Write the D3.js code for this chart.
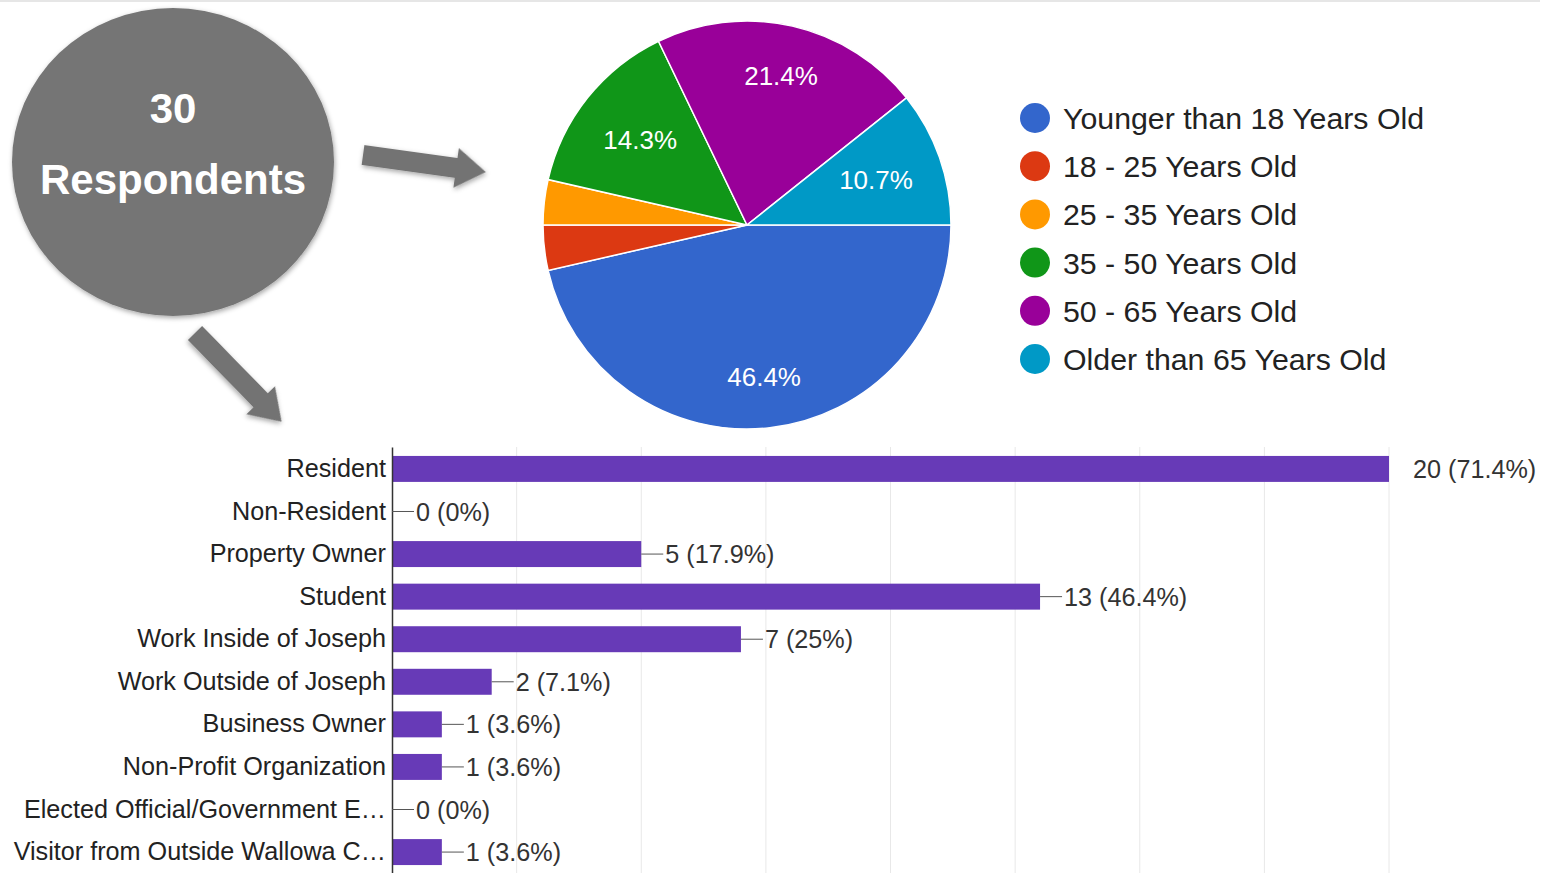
<!DOCTYPE html>
<html>
<head>
    <meta charset='utf-8'>
    <title>Respondents</title>
    <script src='https://cdn.jsdelivr.net/npm/d3@7'></script>
    <style>
        body { margin: 0; background: #fff; }
        text { font-family: 'Liberation Sans', Arial, sans-serif; }
    </style>
</head>
<body>
    <svg width='1554' height='873'></svg>
    <script>
        // ages (pie)
        const ageGroups = ['Younger than 18 Years Old', '18 - 25 Years Old', '25 - 35 Years Old',
            '35 - 50 Years Old', '50 - 65 Years Old', 'Older than 65 Years Old']
        const ageCounts = [13, 1, 1, 4, 6, 3]
        const ageColors = ['#3366cc', '#dc3912', '#ff9900', '#109618', '#990099', '#0099c6']

        // respondent type (bars)
        const roles = ['Resident', 'Non-Resident', 'Property Owner', 'Student', 'Work Inside of Joseph',
            'Work Outside of Joseph', 'Business Owner', 'Non-Profit Organization',
            'Elected Official/Government E…', 'Visitor from Outside Wallowa C…']
        const roleCounts = [20, 0, 5, 13, 7, 2, 1, 1, 0, 1]
        const rolePercents = ['71.4%', '0%', '17.9%', '46.4%', '25%', '7.1%', '3.6%', '3.6%', '0%', '3.6%']
        const xTicks = [0, 2.5, 5, 7.5, 10, 12.5, 15, 17.5, 20]

        const totalRespondents = 30

        const svg = d3.select('svg')

        // shadow filter
        const defs = svg.append('defs')
        const f = defs.append('filter').attr('id', 'shadow').attr('x', '-20%').attr('y', '-20%')
            .attr('width', '140%').attr('height', '140%')
        f.append('feDropShadow').attr('dx', 1).attr('dy', 2).attr('stdDeviation', 2.5)
            .attr('flood-color', '#000').attr('flood-opacity', 0.35)

        // faint line at top
        svg.append('rect').attr('x', 0).attr('y', 0).attr('width', 1540).attr('height', 2).attr('fill', '#e6e6e6')

        // ---- gray bubble + arrows ----
        svg.append('ellipse').attr('cx', 173).attr('cy', 162).attr('rx', 161).attr('ry', 154)
            .attr('fill', '#757575').attr('filter', 'url(#shadow)')
        svg.append('text').attr('x', 173).attr('y', 123).attr('text-anchor', 'middle')
            .attr('fill', '#fff').attr('font-size', 42).attr('font-weight', 'bold').text(totalRespondents)
        svg.append('text').attr('x', 173).attr('y', 194).attr('text-anchor', 'middle')
            .attr('fill', '#fff').attr('font-size', 42).attr('font-weight', 'bold').text('Respondents')

        // block arrow pointing along +x, length 124
        const arrowPts = [[0, -10], [94, -10], [94, -20], [124, 0], [94, 20], [94, 10], [0, 10]]
        const arrowPath = d3.line()(arrowPts) + 'Z'
        svg.append('path').attr('d', arrowPath).attr('fill', '#737373').attr('filter', 'url(#shadow)')
            .attr('transform', 'translate(363,155) rotate(7.9)')
        svg.append('path').attr('d', arrowPath).attr('fill', '#737373').attr('filter', 'url(#shadow)')
            .attr('transform', 'translate(195,333) rotate(45.7)')

        // ---- pie ----
        const cx = 747, cy = 225, r = 204
        const pie = d3.pie().sort(null).startAngle(Math.PI / 2).endAngle(Math.PI / 2 + 2 * Math.PI)
        const arcs = pie(ageCounts)
        const arc = d3.arc().innerRadius(0).outerRadius(r)
        const total = d3.sum(ageCounts)
        const gPie = svg.append('g').attr('transform', `translate(${cx},${cy})`)
        gPie.selectAll('path').data(arcs).join('path')
            .attr('d', arc)
            .attr('fill', (d, i) => ageColors[i])
            .attr('stroke', '#fff').attr('stroke-width', 1.5)
        gPie.selectAll('text').data(arcs.filter(d => d.value / total > 0.05)).join('text')
            .attr('transform', d => {
                const k = d.value / total >= 0.2 ? 0.75 : 0.67
                const a = (d.startAngle + d.endAngle) / 2
                return `translate(${Math.sin(a) * r * k},${-Math.cos(a) * r * k})`
            })
            .attr('text-anchor', 'middle').attr('dy', '0.35em')
            .attr('fill', '#fff').attr('font-size', 26)
            .text(d => (d.value / total * 100).toFixed(1) + '%')

        // legend
        const legY = d3.scalePoint(ageGroups, [118, 359])
        const gLeg = svg.append('g')
        gLeg.selectAll('circle').data(ageGroups).join('circle')
            .attr('cx', 1035).attr('cy', d => legY(d)).attr('r', 15)
            .attr('fill', (d, i) => ageColors[i])
        gLeg.selectAll('text').data(ageGroups).join('text')
            .attr('x', 1063).attr('y', d => legY(d)).attr('dy', '0.36em')
            .attr('fill', '#222').attr('font-size', 30.3).text(d => d)

        // ---- bar chart ----
        const x = d3.scaleLinear([0, 20], [392, 1389])
        const y = d3.scaleBand(roles, [447, 874]).paddingInner(0.39).paddingOuter(0.21)
        const gBar = svg.append('g')

        gBar.selectAll('line.grid').data(xTicks.slice(1)).join('line').attr('class', 'grid')
            .attr('x1', d => x(d)).attr('x2', d => x(d))
            .attr('y1', 447).attr('y2', 874)
            .attr('stroke', '#e8e8e8').attr('stroke-width', 1)

        gBar.selectAll('rect').data(roles).join('rect')
            .attr('x', x(0)).attr('y', d => y(d))
            .attr('width', (d, i) => x(roleCounts[i]) - x(0))
            .attr('height', y.bandwidth())
            .attr('fill', '#673ab7')

        const yAxis = d3.axisLeft(y).tickSize(0).tickPadding(6)
        const gy = gBar.append('g').attr('transform', `translate(${x(0)},0)`).call(yAxis)
        gy.select('.domain').attr('stroke', '#333').attr('stroke-width', 1.5)
        gy.selectAll('.tick text').attr('font-size', 25.2).attr('fill', '#222')
            .attr('font-family', "'Liberation Sans', Arial, sans-serif")

        const maxCount = d3.max(roleCounts)
        gBar.selectAll('line.lead').data(roles.filter((d, i) => roleCounts[i] < maxCount)).join('line')
            .attr('class', 'lead')
            .attr('x1', d => x(roleCounts[roles.indexOf(d)]))
            .attr('x2', d => x(roleCounts[roles.indexOf(d)]) + 22)
            .attr('y1', d => y(d) + y.bandwidth() / 2).attr('y2', d => y(d) + y.bandwidth() / 2)
            .attr('stroke', '#555').attr('stroke-width', 1)
        gBar.selectAll('text.val').data(roles).join('text').attr('class', 'val')
            .attr('x', (d, i) => x(roleCounts[i]) + 24)
            .attr('y', d => y(d) + y.bandwidth() / 2).attr('dy', '0.36em')
            .attr('font-size', 25.2).attr('fill', '#333')
            .text((d, i) => `${roleCounts[i]} (${rolePercents[i]})`)
    </script>
</body>
</html>
